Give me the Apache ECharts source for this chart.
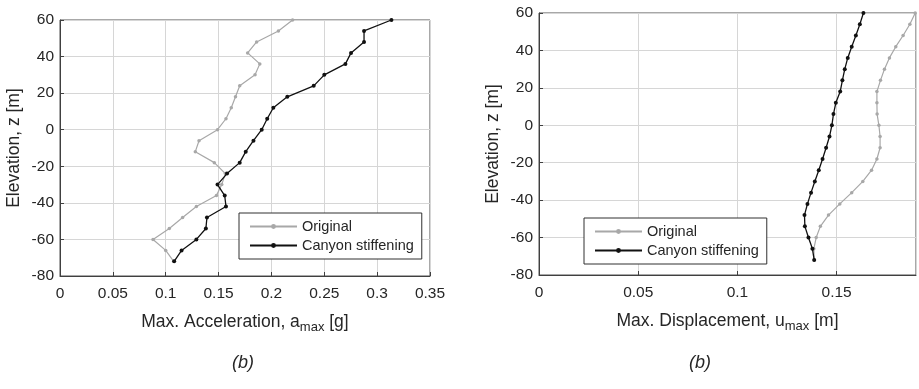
<!DOCTYPE html>
<html>
<head>
<meta charset="utf-8">
<script src="https://cdn.jsdelivr.net/npm/echarts@6/dist/echarts.min.js"></script>
<style>
  html, body { margin: 0; padding: 0; background: #fff; }
  #chart { width: 919px; height: 389px; }
</style>
</head>
<body>
<div id="chart"></div>
<script>
// elevations (m), shared by both panels
const elevation = [60, 54, 48, 42, 36, 30, 24, 18, 12, 6, 0, -6, -12, -18, -24, -30, -36, -42, -48, -54, -60, -66, -72]

// left panel: max acceleration [g]
const accOriginal = [0.220, 0.2066, 0.186, 0.1775, 0.189, 0.1845, 0.170, 0.166, 0.162, 0.157, 0.149, 0.1315, 0.128, 0.146, 0.1564, 0.153, 0.148, 0.129, 0.116, 0.1034, 0.088, 0.100, 0.1075]
const accStiff = [0.3135, 0.2876, 0.2876, 0.2753, 0.270, 0.250, 0.240, 0.215, 0.2018, 0.196, 0.1908, 0.183, 0.1757, 0.170, 0.158, 0.149, 0.1558, 0.157, 0.139, 0.138, 0.129, 0.115, 0.108]

// right panel: max displacement [m]
const dispOriginal = [0.1896, 0.1869, 0.1835, 0.1798, 0.1766, 0.1741, 0.1721, 0.1703, 0.1703, 0.1704, 0.1713, 0.1719, 0.1719, 0.1703, 0.1676, 0.1632, 0.1576, 0.1516, 0.1459, 0.1418, 0.1397, 0.1385, 0.1387]
const dispStiff = [0.1635, 0.1617, 0.1597, 0.1576, 0.1556, 0.1541, 0.1529, 0.1518, 0.1496, 0.1484, 0.1476, 0.1464, 0.1447, 0.1429, 0.141, 0.139, 0.1371, 0.1353, 0.1338, 0.134, 0.1358, 0.1378, 0.1387]

const seriesNames = ['Original', 'Canyon stiffening']
const panelTags = ['(b)', '(b)']

const pair = (xs) => xs.map((x, i) => [x, elevation[i]])

const font = 'Liberation Sans, Arial, sans-serif'
const textColor = '#262626'
const grey = '#a8a8a8'
const black = '#111'

const chart = echarts.init(document.getElementById('chart'))

const xAxisBase = {
  type: 'value',
  min: 0,
  interval: 0.05,
  axisLine: { show: true, onZero: false, lineStyle: { color: '#404040' } },
  axisTick: { show: true, inside: true, length: 4, lineStyle: { color: '#404040' } },
  axisLabel: { fontSize: 15.5, color: textColor, fontFamily: font, margin: 10 },
  splitLine: { show: true, lineStyle: { color: '#d6d6d6' } },
  nameLocation: 'middle',
  nameGap: 34,
  nameTextStyle: { fontSize: 17.5, color: textColor, fontFamily: font },
}

const yAxisBase = {
  type: 'value',
  min: -80,
  max: 60,
  interval: 20,
  name: 'Elevation, z [m]',
  nameLocation: 'middle',
  axisLine: { show: true, onZero: false, lineStyle: { color: '#404040' } },
  axisTick: { show: true, inside: true, length: 4, lineStyle: { color: '#404040' } },
  axisLabel: { fontSize: 15.5, color: textColor, fontFamily: font, margin: 6 },
  splitLine: { show: true, lineStyle: { color: '#d6d6d6' } },
  nameTextStyle: { fontSize: 17.5, color: textColor, fontFamily: font },
}

const subRich = {
  sub: { fontSize: 13, color: textColor, fontFamily: font, verticalAlign: 'bottom', padding: [11, 0, 0, 0] },
  base: { fontSize: 17.5, color: textColor, fontFamily: font },
}

const legendBase = {
  orient: 'vertical',
  backgroundColor: '#fff',
  borderColor: '#303030',
  borderWidth: 1,
  borderRadius: 0,
  padding: [6, 8, 6, 10],
  itemGap: 4,
  itemWidth: 47,
  itemHeight: 6,
  textStyle: { fontSize: 14.5, color: textColor, fontFamily: font },
  data: seriesNames,
  selectedMode: false,
}

const lineSeries = (name, data, idx) => ({
  name,
  type: 'line',
  xAxisIndex: idx,
  yAxisIndex: idx,
  data: pair(data),
  symbol: 'circle',
  symbolSize: name === 'Original' ? 3.5 : 4,
  itemStyle: { color: name === 'Original' ? grey : black },
  lineStyle: { color: name === 'Original' ? grey : black, width: name === 'Original' ? 1.2 : 1.3 },
  z: name === 'Original' ? 2 : 3,
  animation: false,
})

chart.setOption({
  animation: false,
  grid: [
    { left: 60, right: 489, top: 20, bottom: 113, show: true, borderColor: '#505050', borderWidth: 1 },
    { left: 539, right: 3, top: 13, bottom: 114, show: true, borderColor: '#505050', borderWidth: 1 },
  ],
  xAxis: [
    { ...xAxisBase, gridIndex: 0, max: 0.35,
      name: '{base|Max. Acceleration, a}{sub|max}{base| [g]}',
      nameTextStyle: { ...xAxisBase.nameTextStyle, rich: subRich } },
    { ...xAxisBase, gridIndex: 1, max: 0.19,
      axisLabel: { ...xAxisBase.axisLabel, showMaxLabel: false },
      name: '{base|Max. Displacement, u}{sub|max}{base| [m]}',
      nameTextStyle: { ...xAxisBase.nameTextStyle, rich: subRich } },
  ],
  yAxis: [
    { ...yAxisBase, gridIndex: 0, nameGap: 37 },
    { ...yAxisBase, gridIndex: 1, nameGap: 37 },
  ],
  legend: [
    { ...legendBase, left: 239, top: 213 },
    { ...legendBase, left: 584, top: 218 },
  ],
  series: [
    lineSeries('Original', accOriginal, 0),
    lineSeries('Canyon stiffening', accStiff, 0),
    lineSeries('Original', dispOriginal, 1),
    lineSeries('Canyon stiffening', dispStiff, 1),
  ],
  graphic: [
    { type: 'text', left: 232, top: 354, style: { text: panelTags[0], fill: textColor, font: 'italic 18px Liberation Sans, Arial, sans-serif' } },
    { type: 'text', left: 689, top: 354, style: { text: panelTags[1], fill: textColor, font: 'italic 18px Liberation Sans, Arial, sans-serif' } },
  ],
})
</script>
</body>
</html>
